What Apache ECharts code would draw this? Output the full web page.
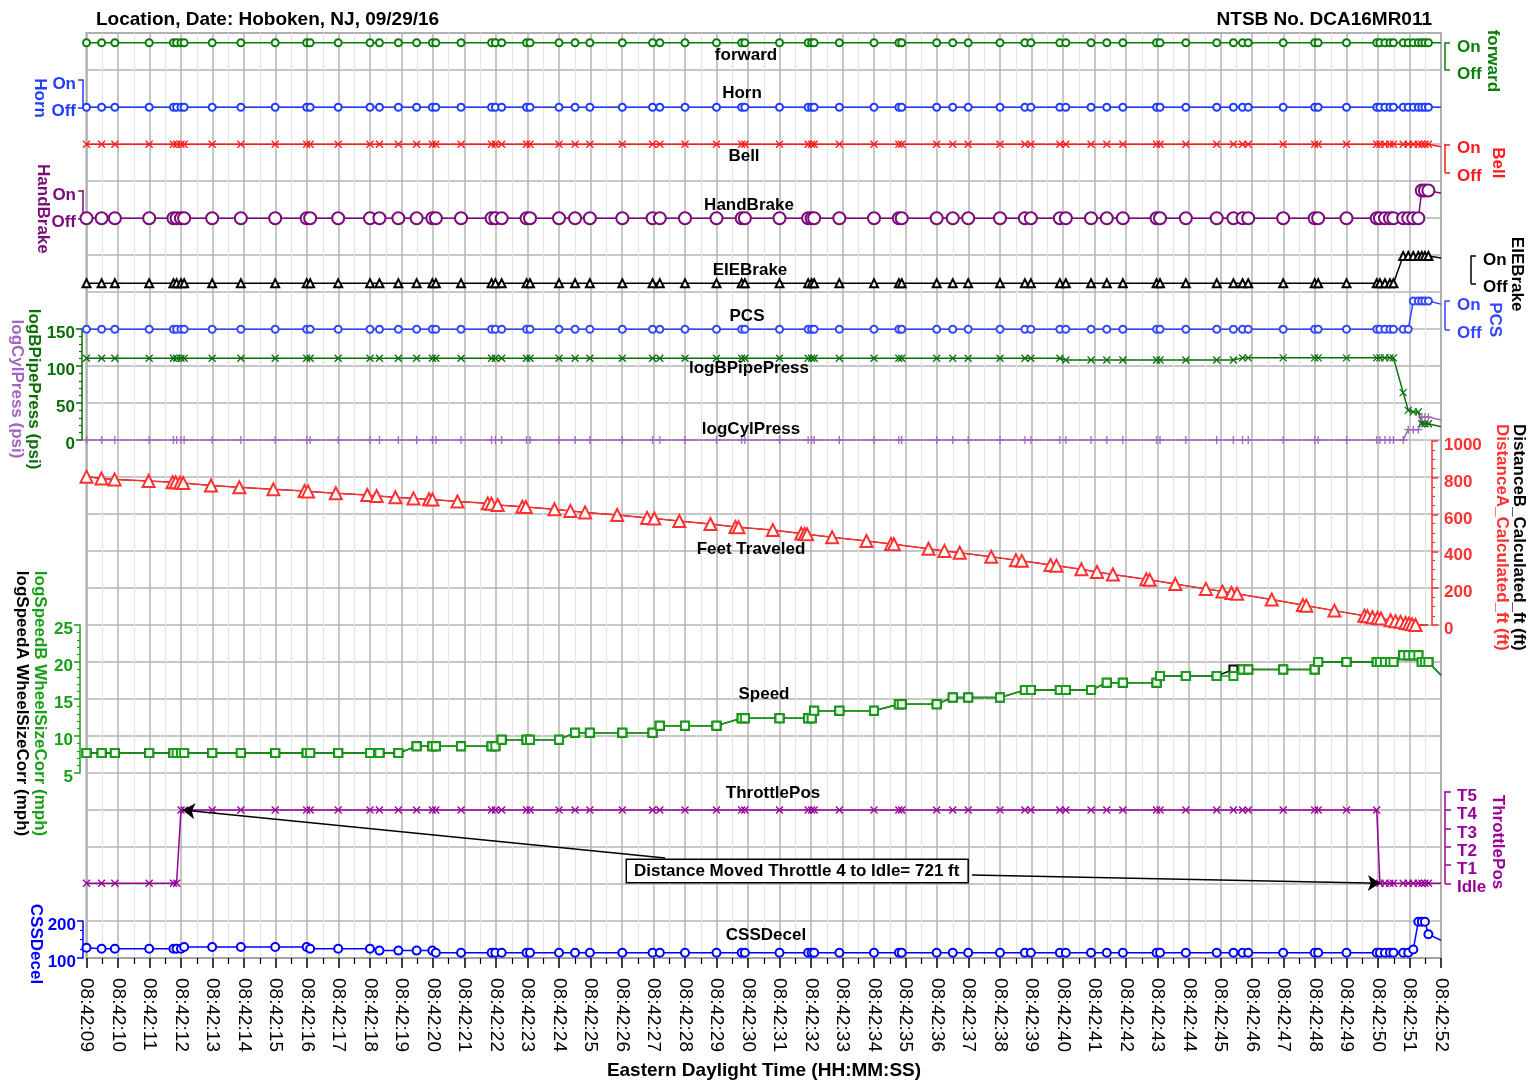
<!DOCTYPE html>
<html>
<head>
<meta charset="utf-8">
<title>Hoboken, NJ 09/29/16 - event recorder</title>
<script src="https://cdn.jsdelivr.net/npm/echarts@6/dist/echarts.min.js"></script>
<style>
  html, body { margin: 0; padding: 0; background: #fff; }
  #chart { width: 1535px; height: 1081px; }
</style>
</head>
<body>
<div id="chart"></div>
<script>
// record times, seconds after 08:42:00 (last one = where the traces leave the plot)
const times = [
  9.00, 9.48, 9.90, 10.99, 11.76, 11.86, 12.00, 12.10, 12.99, 13.90,
  14.99, 15.99, 16.10, 16.99, 18.00, 18.30, 18.90, 19.48, 19.98, 20.09,
  20.89, 21.86, 21.98, 22.18, 22.97, 23.08, 24.00, 24.51, 24.98, 26.01,
  26.97, 27.20, 28.00, 29.00, 29.80, 29.90, 31.00, 31.91, 32.02, 32.10,
  32.90, 34.00, 34.79, 34.88, 35.99, 36.50, 36.99, 38.00, 38.79, 38.98,
  39.90, 40.09, 40.89, 41.39, 41.90, 42.97, 43.08, 43.90, 44.88, 45.41,
  45.70, 45.88, 46.99, 47.99, 48.10, 49.00, 49.96, 50.06, 50.22, 50.38,
  50.49, 50.80, 50.96, 51.12, 51.28, 51.39, 51.49, 51.60, 52.00
];

// on/off signals (1 = On, 0 = Off)
const forward = [
  1,1,1,1,1,1,1,1,1,1, 1,1,1,1,1,1,1,1,1,1, 1,1,1,1,1,1,1,1,1,1,
  1,1,1,1,1,1,1,1,1,1, 1,1,1,1,1,1,1,1,1,1, 1,1,1,1,1,1,1,1,1,1,
  1,1,1,1,1,1,1,1,1,1, 1,1,1,1,1,1,1,1,1
];
const horn = [
  0,0,0,0,0,0,0,0,0,0, 0,0,0,0,0,0,0,0,0,0, 0,0,0,0,0,0,0,0,0,0,
  0,0,0,0,0,0,0,0,0,0, 0,0,0,0,0,0,0,0,0,0, 0,0,0,0,0,0,0,0,0,0,
  0,0,0,0,0,0,0,0,0,0, 0,0,0,0,0,0,0,0,0
];
const bell = [
  1,1,1,1,1,1,1,1,1,1, 1,1,1,1,1,1,1,1,1,1, 1,1,1,1,1,1,1,1,1,1,
  1,1,1,1,1,1,1,1,1,1, 1,1,1,1,1,1,1,1,1,1, 1,1,1,1,1,1,1,1,1,1,
  1,1,1,1,1,1,1,1,1,1, 1,1,1,1,1,1,1,1,0.91
];
const handBrake = [
  0,0,0,0,0,0,0,0,0,0, 0,0,0,0,0,0,0,0,0,0, 0,0,0,0,0,0,0,0,0,0,
  0,0,0,0,0,0,0,0,0,0, 0,0,0,0,0,0,0,0,0,0, 0,0,0,0,0,0,0,0,0,0,
  0,0,0,0,0,0,0,0,0,0, 0,0,0,0,0,1,1,1,0.9
];
const eleBrake = [
  0,0,0,0,0,0,0,0,0,0, 0,0,0,0,0,0,0,0,0,0, 0,0,0,0,0,0,0,0,0,0,
  0,0,0,0,0,0,0,0,0,0, 0,0,0,0,0,0,0,0,0,0, 0,0,0,0,0,0,0,0,0,0,
  0,0,0,0,0,0,0,0,0,0, 0,1,1,1,1,1,1,1,0.93
];
const pcs = [
  0,0,0,0,0,0,0,0,0,0, 0,0,0,0,0,0,0,0,0,0, 0,0,0,0,0,0,0,0,0,0,
  0,0,0,0,0,0,0,0,0,0, 0,0,0,0,0,0,0,0,0,0, 0,0,0,0,0,0,0,0,0,0,
  0,0,0,0,0,0,0,0,0,0, 0,0,0,1,1,1,1,1,0.89
];

// pressures (psi)
const bPipePress = [
  110.5,110.5,110.5,110.5,110.5,110.5,110.5,110.5,110.5,110.5,
  110.5,110.5,110.5,110.5,110.5,110.5,110.5,110.5,110.5,110.5,
  110.5,110.5,110.5,110.5,110.5,110.5,110.5,110.5,110.5,110.5,
  110.5,110.5,110.5,110.5,110.5,110.5,110.5,110.5,110.5,110.5,
  110.5,110.5,110.5,110.5,110.5,110.5,110.5,110.5,110.5,110.5,
  110.5,108,108,108,108,108,108,108,108,108,
  111,111,111,111,111,111,111,111,111,111,
  111,64,40,38,38,22,22,22,18
];
const cylPress = [
  0,0,0,0,0,0,0,0,0,0, 0,0,0,0,0,0,0,0,0,0, 0,0,0,0,0,0,0,0,0,0,
  0,0,0,0,0,0,0,0,0,0, 0,0,0,0,0,0,0,0,0,0, 0,0,0,0,0,0,0,0,0,0,
  0,0,0,0,0,0,0,0,0,0, 0,0,14,14,14,31,31,31,27
];

// distance to go (ft)
const distance = [
  805, 795, 790, 781, 775, 774, 772, 770, 757, 747,
  736, 727, 725, 715, 705, 700, 693, 687, 682, 681,
  670, 660, 658, 651, 642, 640, 628, 619, 611, 597,
  581, 578, 564, 548, 532, 530, 515, 496, 494, 492,
  476, 456, 440, 438, 414, 402, 392, 370, 352, 348,
  326, 322, 302, 288, 274, 248, 245, 222, 196, 182,
  174, 169, 138, 108, 105, 78, 50, 47, 42, 38,
  35, 26, 21, 17, 11, 8, 4, 0, 0
];

// speed (mph)
const speedB = [
  7.7, 7.7, 7.7, 7.7, 7.7, 7.7, 7.7, 7.7, 7.7, 7.7,
  7.7, 7.7, 7.7, 7.7, 7.7, 7.7, 7.7, 8.6, 8.6, 8.6,
  8.6, 8.6, 8.6, 9.5, 9.5, 9.5, 9.5, 10.45, 10.45, 10.45,
  10.45, 11.4, 11.4, 11.4, 12.4, 12.4, 12.4, 12.4, 12.4, 13.4,
  13.4, 13.4, 14.3, 14.3, 14.3, 15.2, 15.2, 15.2, 16.2, 16.2,
  16.2, 16.2, 16.2, 17.2, 17.2, 17.2, 18.1, 18.1, 18.1, 18.1,
  19.0, 19.0, 19.0, 19.0, 20.0, 20.0, 20.0, 20.0, 20.0, 20.0,
  20.0, 20.9, 20.9, 20.9, 20.9, 20.0, 20.0, 20.0, 18.2
];
const speedA = [
  7.7, 7.7, 7.7, 7.7, 7.7, 7.7, 7.7, 7.7, 7.7, 7.7,
  7.7, 7.7, 7.7, 7.7, 7.7, 7.7, 7.7, 8.6, 8.6, 8.6,
  8.6, 8.6, 8.6, 9.5, 9.5, 9.5, 9.5, 10.45, 10.45, 10.45,
  10.45, 11.4, 11.4, 11.4, 12.4, 12.4, 12.4, 12.4, 12.4, 13.4,
  13.4, 13.4, 14.3, 14.3, 14.3, 15.2, 15.2, 15.2, 16.2, 16.2,
  16.2, 16.2, 16.2, 17.2, 17.2, 17.2, 18.1, 18.1, 18.1, 19.0,
  19.0, 19.0, 19.0, 19.0, 20.0, 20.0, 20.0, 20.0, 20.0, 20.0,
  20.0, 20.9, 20.9, 20.9, 20.9, 20.0, 20.0, 20.0, 18.2
];

// throttle notch (0 = Idle)
const throttle = [
  0,0,0,0,0,0,4,4,4,4, 4,4,4,4,4,4,4,4,4,4, 4,4,4,4,4,4,4,4,4,4,
  4,4,4,4,4,4,4,4,4,4, 4,4,4,4,4,4,4,4,4,4, 4,4,4,4,4,4,4,4,4,4,
  4,4,4,4,4,4,4,0,0,0, 0,0,0,0,0,0,0,0,0
];
const throttleNames = ['Idle', 'T1', 'T2', 'T3', 'T4', 'T5'];

const cssDecel = [
  127.5, 125, 125, 125, 125, 125, 125, 129.5, 129.5, 129.5,
  129.5, 129.5, 125, 125, 125, 120, 120, 120, 120, 114,
  114, 114, 114, 114, 114, 114, 114, 114, 114, 114,
  114, 114, 114, 114, 114, 114, 114, 114, 114, 114,
  114, 114, 114, 114, 114, 114, 114, 114, 114, 114,
  114, 114, 114, 114, 114, 114, 114, 114, 114, 114,
  114, 114, 114, 114, 114, 114, 114, 114, 114, 114,
  114, 114, 114, 123, 198, 198, 198, 164, 148
];

// annotation arrows, in throttle-track data units [time, notch]
const arrowFrom1 = [27.37, 1.38], arrowTo1 = [12.06, 4.0];
const arrowFrom2 = [37.11, 0.45], arrowTo2 = [50.06, 0.0];

const FONT = 'Arial, "Liberation Sans", sans-serif';
const chart = echarts.init(document.getElementById('chart'));

// pixel bands of each track: [top, height]
const bands = [
  [33, 925],      // 0 background grid
  [42.7, 27.3],   // 1 forward
  [80, 27.3],     // 2 Horn
  [144.3, 28],    // 3 Bell
  [190.5, 27.8],  // 4 HandBrake
  [256, 27.3],    // 5 EIEBrake
  [301, 28.3],    // 6 PCS
  [329, 111],     // 7 pressures
  [440.7, 184.3], // 8 distance
  [625, 148],     // 9 speed
  [791.7, 91.6],  // 10 throttle
  [921, 37]       // 11 CSSDecel
];

const grids = bands.map(([top, height], i) => ({
  left: 86.5, right: 94, top, height,
  show: i === 0, borderColor: '#a3a3a3', borderWidth: 2
}));

const xAxes = bands.map((b, i) => i === 0 ? {
  gridIndex: 0, type: 'value', min: 9, max: 52, interval: 1,
  axisLine: { show: true, lineStyle: { color: '#a3a3a3', width: 2 } },
  axisTick: { show: true, length: 10, lineStyle: { color: '#000', width: 1.5 } },
  minorTick: { show: true, splitNumber: 2, length: 6, lineStyle: { color: '#000', width: 1.2 } },
  splitLine: { show: true, lineStyle: { color: '#b5b5b5', width: 1.5 } },
  minorSplitLine: { show: true, lineStyle: { color: '#e4e4e4', width: 1.2 } },
  axisLabel: {
    rotate: -90, margin: 20, fontSize: 19, color: '#000', fontFamily: FONT,
    formatter: v => '08:42:' + String(v).padStart(2, '0')
  }
} : { gridIndex: i, type: 'value', min: 9, max: 52, show: false });

function nameStyle(color) {
  return { color, fontWeight: 'bold', fontSize: 17, fontFamily: FONT, padding: [0, 0, 0, 9] };
}

// labels sit a few pixels below their ticks, as in the recorder printout
function labelStyle(color, side, formatter) {
  return {
    color, fontWeight: 'bold', fontSize: 17, fontFamily: FONT,
    margin: side === 'left' ? 7 : 12, verticalAlign: 'top', lineHeight: 9,
    formatter
  };
}

function onOffAxis(gi, side, color, name, gap, offset) {
  return {
    gridIndex: gi, type: 'value', position: side, offset, min: 0, max: 1, interval: 1,
    axisLine: { show: true, lineStyle: { color, width: 1.5 } },
    axisTick: { show: true, length: 5, lineStyle: { color, width: 1.5 } },
    axisLabel: labelStyle(color, side, v => v === 1 ? 'On' : 'Off'),
    splitLine: { show: false },
    name, nameLocation: 'middle', nameRotate: -90, nameGap: gap, nameMoveOverlap: false,
    nameTextStyle: nameStyle(color)
  };
}

function numAxis(gi, side, color, min, max, interval, minorSplit, name, gap, offset, extra) {
  return Object.assign({
    gridIndex: gi, type: 'value', position: side, offset, min, max, interval,
    axisLine: { show: true, lineStyle: { color, width: 1.5 } },
    axisTick: { show: true, length: 6, lineStyle: { color, width: 1.5 } },
    minorTick: { show: minorSplit > 0, splitNumber: minorSplit || 5, length: 3, lineStyle: { color, width: 1.2 } },
    axisLabel: labelStyle(color, side, v => String(v)),
    splitLine: { show: false },
    minorSplitLine: { show: false },
    name, nameLocation: 'middle', nameRotate: -90, nameGap: gap, nameMoveOverlap: false,
    nameTextStyle: nameStyle(color)
  }, extra || {});
}

function twoLineName(c1, c2, lh) {
  return Object.assign(nameStyle(c1), {
    lineHeight: lh,
    rich: {
      a: { color: c1, fontWeight: 'bold', fontSize: 17, fontFamily: FONT, lineHeight: lh },
      b: { color: c2, fontWeight: 'bold', fontSize: 17, fontFamily: FONT, lineHeight: lh }
    }
  });
}

const C = {
  forward: '#0b7d0b', horn: '#1f3cff', bell: '#ff1a1a', hand: '#7a0a7a', ele: '#000000',
  pcs: '#3347ff', pipe: '#0a6e0a', cyl: '#a366bf', dist: '#ff3030', speed: '#17a017',
  thr: '#990099', css: '#0000ff'
};

const yAxes = [
  {
    gridIndex: 0, type: 'value', min: 0, max: 25, interval: 1,
    axisLine: { show: false }, axisTick: { show: false }, axisLabel: { show: false },
    splitLine: { show: true, lineStyle: { color: '#b5b5b5', width: 1.5 } }
  },
  onOffAxis(1, 'right', C.forward, 'forward', 39, 4),
  onOffAxis(2, 'left', C.horn, 'Horn', 35, 3.5),
  onOffAxis(3, 'right', C.bell, 'Bell', 44, 4),
  onOffAxis(4, 'left', C.hand, 'HandBrake', 32, 3.5),
  onOffAxis(5, 'right', C.ele, 'EIEBrake', 37, 30),
  onOffAxis(6, 'right', C.pcs, 'PCS', 41, 4),
  numAxis(7, 'left', C.pipe, 0, 150, 50, 5,
    '{a|logBPipePress (psi)}\n{b|logCylPress (psi)}', 40, 4.5,
    { nameTextStyle: twoLineName(C.pipe, C.cyl, 17) }),
  numAxis(8, 'right', C.dist, 0, 1000, 200, 4,
    '{b|DistanceB_Calculated_ft (ft)}\n{a|DistanceA_Calculated_ft (ft)}', 61, 4,
    { nameTextStyle: twoLineName(C.dist, '#000', 17) }),
  numAxis(9, 'left', C.speed, 5, 25, 5, 5,
    '{a|logSpeedB WheelSizeCorr (mph)}\n{b|logSpeedA WheelSizeCorr (mph)}', 31, 6.5,
    { nameTextStyle: twoLineName(C.speed, '#000', 18) }),
  numAxis(10, 'right', C.thr, 0, 5, 1, 0, 'ThrottlePos', 44, 4, {
    minorTick: { show: false },
    axisLabel: labelStyle(C.thr, 'right', v => throttleNames[v])
  }),
  numAxis(11, 'left', C.css, 100, 200, 100, 4, 'CSSDecel', 39, 3.5)
];

const X_SYM = 'path://M0,0L10,10M10,0L0,10';
const PLUS_SYM = 'path://M5,0L5,10M0,5L10,5';

function trace(name, gi, values, color, symbol, size, extra) {
  const last = times.length - 1;
  return Object.assign({
    type: 'line', name, xAxisIndex: gi, yAxisIndex: gi,
    data: times.map((t, i) => i === last ? { value: [t, values[i]], symbol: 'none' } : [t, values[i]]),
    symbol, symbolSize: size, showAllSymbol: true, clip: false,
    lineStyle: { color, width: 1.5 },
    itemStyle: { color, borderColor: color, borderWidth: 1.3 },
    emphasis: { disabled: true }, silent: true
  }, extra || {});
}

const series = [
  trace('forward', 1, forward, C.forward, 'emptyCircle', 7),
  trace('Horn', 2, horn, C.horn, 'emptyCircle', 7),
  trace('Bell', 3, bell, C.bell, X_SYM, 7),
  trace('HandBrake', 4, handBrake, C.hand, 'emptyCircle', 12),
  trace('EIEBrake', 5, eleBrake, C.ele, 'emptyTriangle', 8),
  trace('PCS', 6, pcs, C.pcs, 'emptyCircle', 7),
  trace('logBPipePress', 7, bPipePress, C.pipe, X_SYM, 7),
  trace('logCylPress', 7, cylPress, C.cyl, PLUS_SYM, 8),
  trace('DistanceB', 8, distance, '#000', 'none', 0, { lineStyle: { color: '#000', width: 1 } }),
  trace('DistanceA', 8, distance, C.dist, 'emptyTriangle', 12),
  trace('logSpeedA', 9, speedA, '#000', 'emptyRect', 8),
  trace('logSpeedB', 9, speedB, C.speed, 'emptyRect', 8),
  trace('ThrottlePos', 10, throttle, C.thr, X_SYM, 7, {
    markLine: {
      silent: true, symbol: ['none', 'arrow'], symbolSize: 12,
      lineStyle: { color: '#000', width: 1.5, type: 'solid' },
      label: { show: false },
      data: [
        [{ coord: arrowFrom1 }, { coord: arrowTo1 }],
        [{ coord: arrowFrom2 }, { coord: arrowTo2 }]
      ]
    }
  }),
  trace('CSSDecel', 11, cssDecel, C.css, 'emptyCircle', 8)
];

// track captions inside the plot
const captions = [
  ['forward', 746, 55], ['Horn', 742, 93], ['Bell', 744, 156], ['HandBrake', 749, 205],
  ['EIEBrake', 750, 270], ['PCS', 747, 316], ['logBPipePress', 749, 368],
  ['logCylPress', 751, 429], ['Feet Traveled', 751, 549], ['Speed', 764, 694],
  ['ThrottlePos', 773, 793], ['CSSDecel', 766, 935]
];

const graphic = captions.map(([text, x, y]) => ({
  type: 'text', x, y, z: 50, silent: true,
  style: { text, font: 'bold 17px ' + FONT, fill: '#000', align: 'center', verticalAlign: 'middle' }
}));
graphic.push({
  type: 'text', x: 627, y: 860, z: 60, silent: true,
  style: {
    text: 'Distance Moved Throttle 4 to Idle= 721 ft', font: 'bold 17px ' + FONT, fill: '#000',
    backgroundColor: '#fff', borderColor: '#000', borderWidth: 1.5, padding: [3, 8, 2, 7]
  }
});
// time axis title
graphic.push({
  type: 'text', x: 764, y: 1071, z: 50, silent: true,
  style: {
    text: 'Eastern Daylight Time (HH:MM:SS)', font: 'bold 19px ' + FONT, fill: '#000',
    align: 'center', verticalAlign: 'middle'
  }
});

chart.setOption({
  animation: false,
  backgroundColor: '#fff',
  title: [
    { text: 'Location, Date: Hoboken, NJ, 09/29/16', left: 96, top: 10, padding: 0,
      textStyle: { fontSize: 19, fontWeight: 'bold', color: '#000', fontFamily: FONT } },
    { text: 'NTSB No. DCA16MR011', right: 103, top: 10, padding: 0,
      textStyle: { fontSize: 19, fontWeight: 'bold', color: '#000', fontFamily: FONT } }
  ],
  grid: grids,
  xAxis: xAxes,
  yAxis: yAxes,
  series,
  graphic
});
</script>
</body>
</html>
